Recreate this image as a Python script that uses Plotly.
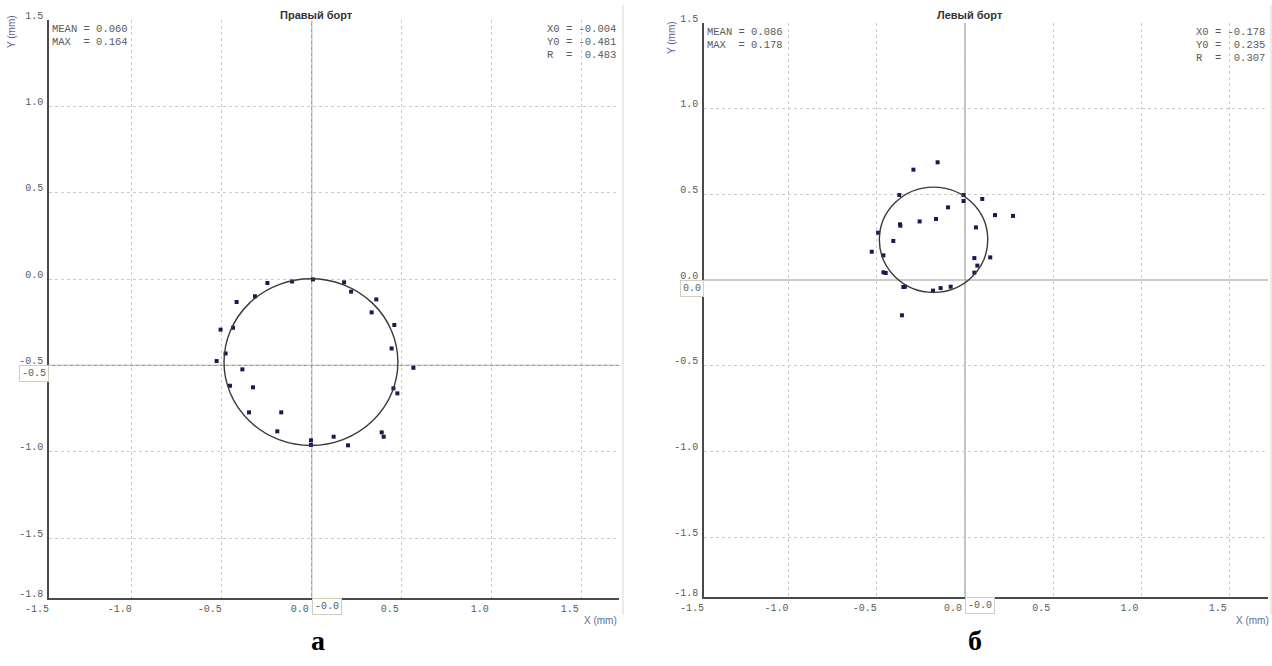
import plotly.graph_objects as go

# ---------------- data ----------------
titles = ["Правый борт", "Левый борт"]
panel_letters = ["а", "б"]

left_x = [-0.246, -0.109, 0.007, 0.180, 0.219, -0.315, -0.417, 0.359, 0.333, 0.459,
          -0.506, -0.437, 0.444, -0.478, -0.528, 0.565, -0.385, -0.454, -0.326, 0.454,
          0.476, -0.348, -0.169, -0.191, 0.122, -0.004, -0.004, 0.202, 0.389, 0.400]
left_y = [-0.023, -0.014, -0.002, -0.019, -0.073, -0.100, -0.133, -0.118, -0.193, -0.266,
          -0.293, -0.282, -0.402, -0.431, -0.475, -0.514, -0.523, -0.618, -0.627, -0.633,
          -0.662, -0.772, -0.772, -0.882, -0.913, -0.934, -0.961, -0.963, -0.888, -0.913]

right_x = [-0.155, -0.292, -0.372, -0.008, -0.008, 0.098, -0.096, 0.170, 0.272, -0.164,
           -0.257, -0.368, -0.366, 0.062, -0.492, -0.406, -0.528, -0.462, 0.143, 0.053,
           0.070, -0.462, -0.449, 0.053, -0.349, -0.340, -0.181, -0.138, -0.081, -0.357]
right_y = [0.687, 0.644, 0.496, 0.496, 0.461, 0.473, 0.424, 0.379, 0.374, 0.356,
           0.342, 0.325, 0.317, 0.307, 0.276, 0.228, 0.165, 0.144, 0.132, 0.128,
           0.084, 0.045, 0.041, 0.043, -0.041, -0.039, -0.062, -0.047, -0.039, -0.206]

circle_x0 = [-0.004, -0.178]
circle_y0 = [-0.481, 0.235]
circle_r = [0.483, 0.307]
mean_vals = [0.060, 0.086]
max_vals = [0.164, 0.178]

cross_x = [0.0, 0.0]
cross_y = [-0.5, 0.0]
cross_x_text = ["-0.0", "-0.0"]
cross_y_text = ["-0.5", "0.0"]

x_ranges = [[-1.459, 1.707], [-1.478, 1.716]]
y_ranges = [[-1.847, 1.5], [-1.85, 1.5]]
x_tick_vals = [-1.0, -0.5, 0.0, 0.5, 1.0, 1.5]
y_tick_vals = [1.5, 1.0, 0.5, 0.0, -0.5, -1.0, -1.5]

# ---------------- layout ----------------
W, H = 1272, 666
x_domains = [[49 / W, 619 / W], [704 / W, 1268 / W]]
y_domains = [[(H - 598) / H, (H - 20) / H], [(H - 597) / H, (H - 23) / H]]
title_x_px = [316, 970]
ytitle_px = [(11, 32), (671, 38)]
xtitle_px = [600, 1252]
letter_x_px = [318, 975]

MONO = "Liberation Mono, Courier New, monospace"
SANS = "Liberation Sans, Arial, sans-serif"
TXT = "#5a5a5a"
GRID = "#cccccc"

fig = go.Figure()
data_sets = [(left_x, left_y), (right_x, right_y)]

for i in range(2):
    xa = "x" if i == 0 else "x2"
    ya = "y" if i == 0 else "y2"
    xs, ys = data_sets[i]
    fig.add_trace(go.Scatter(
        x=xs, y=ys, mode="markers", xaxis=xa, yaxis=ya, showlegend=False,
        marker=dict(size=4, color="#1a1a50", symbol="square",
                    line=dict(width=0)),
        hoverinfo="skip"))

    xtv = [x_ranges[i][0]] + x_tick_vals
    xtt = [f"{v:.1f}" for v in xtv]
    ytv = y_tick_vals + [y_ranges[i][0]]
    ytt = [f"{v:.1f}" for v in ytv]
    ytt[-1] = "-1.8"

    axis_common = dict(showgrid=True, gridcolor=GRID, griddash="dot", gridwidth=1,
                       zeroline=False, showline=True, linecolor="#4a4a4a", linewidth=1.5,
                       tickfont=dict(family=MONO, size=10, color=TXT),
                       ticks="", fixedrange=True, mirror=False, automargin=False)
    xkey = "xaxis" if i == 0 else "xaxis2"
    ykey = "yaxis" if i == 0 else "yaxis2"
    fig.layout[xkey] = dict(axis_common, domain=x_domains[i], range=x_ranges[i],
                            tickmode="array", tickvals=xtv, ticktext=xtt,
                            anchor=ya, ticklabelshift=-12, ticklabelstandoff=0)
    fig.layout[ykey] = dict(axis_common, domain=y_domains[i], range=y_ranges[i],
                            tickmode="array", tickvals=ytv, ticktext=ytt,
                            anchor=xa, ticklabelshift=-5, ticklabelstandoff=2)

    xref_d = ("x" if i == 0 else "x2") + " domain"
    yref_d = ("y" if i == 0 else "y2") + " domain"

    # crosshair lines
    fig.add_shape(type="line", xref=xa, yref=yref_d, x0=cross_x[i], x1=cross_x[i],
                  y0=0, y1=1, line=dict(color="#9a9a9a", width=1.2), layer="below")
    fig.add_shape(type="line", xref=xref_d, yref=ya, x0=0, x1=1,
                  y0=cross_y[i], y1=cross_y[i], line=dict(color="#9a9a9a", width=1.2),
                  layer="below")

    # fitted circle
    fig.add_shape(type="circle", xref=xa, yref=ya,
                  x0=circle_x0[i] - circle_r[i], x1=circle_x0[i] + circle_r[i],
                  y0=circle_y0[i] - circle_r[i], y1=circle_y0[i] + circle_r[i],
                  line=dict(color="#3a3a3a", width=1.4))

    # crosshair value boxes
    fig.add_annotation(xref=xa, yref=yref_d, x=cross_x[i], y=0, xanchor="left",
                       yanchor="top", text=cross_x_text[i], showarrow=False,
                       font=dict(family=MONO, size=10, color=TXT),
                       bordercolor="#cfcfbf", borderwidth=1, borderpad=2,
                       bgcolor="white")
    fig.add_annotation(xref=xref_d, yref=ya, x=0, y=cross_y[i], xanchor="right",
                       yanchor="top", text=cross_y_text[i], showarrow=False,
                       font=dict(family=MONO, size=10, color=TXT),
                       bordercolor="#cfcfbf", borderwidth=1, borderpad=2,
                       bgcolor="white")

    # statistics text
    x_left_px = x_domains[i][0] * W + 1
    x_right_px = x_domains[i][1] * W - 1
    top_px = H - y_domains[i][1] * H
    stat_left = [f"MEAN = {mean_vals[i]:.3f}", f"MAX  = {max_vals[i]:.3f}"]
    stat_right = [f"X0 = {circle_x0[i]:.3f}", f"Y0 = {circle_y0[i]: .3f}",
                  f"R  = {circle_r[i]: .3f}"]
    for k, t in enumerate(stat_left):
        fig.add_annotation(xref="paper", yref="paper", x=x_left_px / W,
                           y=1 - (top_px + 9 + 13 * k) / H, xanchor="left",
                           yanchor="middle", text=t.replace(" ", "&nbsp;"),
                           showarrow=False,
                           font=dict(family=MONO, size=10.5, color=TXT))
    for k, t in enumerate(stat_right):
        fig.add_annotation(xref="paper", yref="paper", x=x_right_px / W,
                           y=1 - (top_px + 9 + 13 * k) / H, xanchor="right",
                           yanchor="middle", text=t.replace(" ", "&nbsp;"),
                           showarrow=False,
                           font=dict(family=MONO, size=10.5, color=TXT))

    # title
    fig.add_annotation(xref="paper", yref="paper", x=title_x_px[i] / W,
                       y=1 - 15 / H, xanchor="center", yanchor="middle",
                       text=f"<b>{titles[i]}</b>", showarrow=False,
                       font=dict(family=SANS, size=11, color="#333333"))
    # axis titles
    fig.add_annotation(xref="paper", yref="paper", x=ytitle_px[i][0] / W,
                       y=1 - ytitle_px[i][1] / H, xanchor="center", yanchor="middle",
                       text="Y (mm)", textangle=-90, showarrow=False,
                       font=dict(family=SANS, size=10, color="#5c5c96"))
    fig.add_annotation(xref="paper", yref="paper", x=xtitle_px[i] / W,
                       y=1 - 620 / H, xanchor="center", yanchor="middle",
                       text="X (mm)", showarrow=False,
                       font=dict(family=SANS, size=10, color="#5c6c96"))
    # panel letter
    fig.add_annotation(xref="paper", yref="paper", x=letter_x_px[i] / W,
                       y=1 - 640 / H, xanchor="center", yanchor="middle",
                       text=f"<b>{panel_letters[i]}</b>", showarrow=False,
                       font=dict(family="Liberation Serif, Times New Roman, serif",
                                 size=28, color="#000000"))

# faint widget borders
fig.add_shape(type="line", xref="paper", yref="paper", x0=623 / W, x1=623 / W,
              y0=1 - 615 / H, y1=1 - 5 / H, line=dict(color="#e4e4e0", width=1.5))
fig.add_shape(type="line", xref="paper", yref="paper", x0=1271 / W, x1=1271 / W,
              y0=1 - 615 / H, y1=1 - 5 / H, line=dict(color="#e4e4e0", width=1.5))

fig.update_layout(width=W, height=H, margin=dict(l=0, r=0, t=0, b=0),
                  paper_bgcolor="white", plot_bgcolor="white", showlegend=False)

fig.write_html("out.html",
               config={"displayModeBar": False},
               post_script="document.body.style.margin='0px';"
                           "document.body.style.overflow='hidden';")
